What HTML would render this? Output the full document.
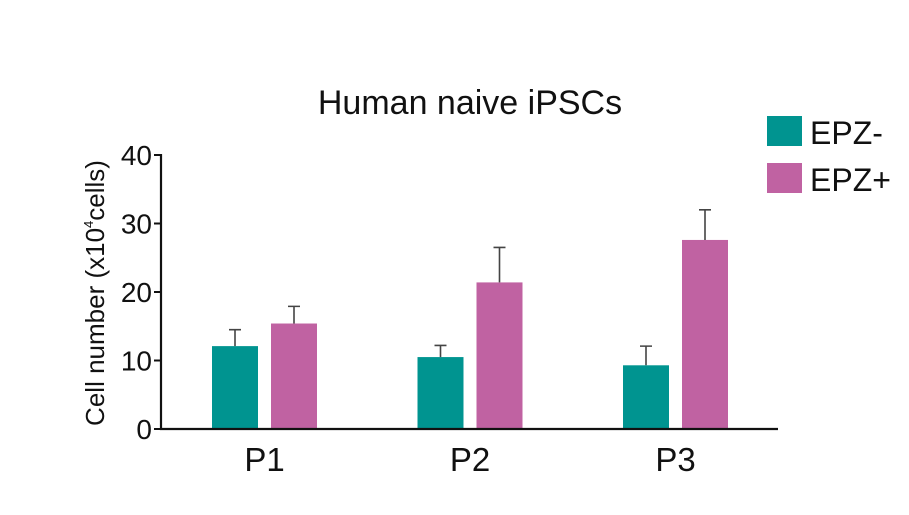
<!DOCTYPE html>
<html><head><meta charset="utf-8"><style>
html,body{margin:0;padding:0;background:#fff;width:909px;height:515px;overflow:hidden}
svg{display:block;font-family:"Liberation Sans",Arial,sans-serif}
</style></head><body>
<svg id="chart" width="909" height="515">
<text x="470" y="114" font-size="34" text-anchor="middle" fill="#111">Human naive iPSCs</text>
<g>
<rect x="767" y="116" width="35" height="30" fill="#009490"/>
<text x="810" y="144" font-size="32" fill="#111">EPZ-</text>
<rect x="767" y="163" width="35" height="30" fill="#c062a2"/>
<text x="810" y="191" font-size="32" fill="#111">EPZ+</text>
</g>
<text transform="translate(104,293) rotate(-90)" font-size="26" text-anchor="middle" fill="#111">Cell number (x10<tspan dy="-11" font-size="13">4</tspan><tspan dy="11">cells)</tspan></text>
<g id="bars"></g>
<g id="axes"></g>
</svg>
<script>
const categories=["P1","P2","P3"];
const epzMinus=[12.1,10.5,9.3];
const epzMinusErr=[2.4,1.7,2.8];
const epzPlus=[15.4,21.4,27.6];
const epzPlusErr=[2.5,5.1,4.4];
const yTicks=[0,10,20,30,40];
const NS="http://www.w3.org/2000/svg";
const y0=429,yTop=155,yMax=40;
function y(v){return y0-(v/yMax)*(y0-yTop);}
function gx(i){return 212+i*205.5;}
const bw=46,gap=13;
const bars=document.getElementById('bars'),axes=document.getElementById('axes');
function mk(tag,attrs,parent){const e=document.createElementNS(NS,tag);for(const k in attrs)e.setAttribute(k,attrs[k]);parent.appendChild(e);return e;}
categories.forEach((c,i)=>{
  [[epzMinus,epzMinusErr,"#009490","epz-minus"],[epzPlus,epzPlusErr,"#c062a2","epz-plus"]].forEach((s,j)=>{
    const x=gx(i)+j*(bw+gap);const v=s[0][i],e=s[1][i];
    const r=mk('rect',{x:x,y:y(v),width:bw,height:y0-y(v),fill:s[2]},bars);
    
    
    const cx=x+bw/2;
    const l=mk('path',{d:`M${cx},${y(v)}V${y(v+e)}M${cx-6},${y(v+e)}H${cx+6}`,stroke:"#444","stroke-width":1.6,fill:"none"},bars);
    
    
  });
  const t=mk('text',{x:gx(i)+bw+gap/2,y:471,'font-size':33,'text-anchor':'middle',fill:'#111'},axes);
  t.textContent=c;
  
  
});
const ya=mk('path',{d:`M161,${yTop-1}V${y0}H778`,stroke:"#111","stroke-width":2.2,fill:"none"},axes);


yTicks.forEach(v=>{
  const tk=mk('line',{x1:154,x2:161,y1:y(v),y2:y(v),stroke:"#111","stroke-width":2},axes);
  
  
  const t=mk('text',{x:152,y:y(v)+10,'font-size':28,'text-anchor':'end',fill:'#111'},axes);
  t.textContent=v;
  
  
});
</script>
</body></html>
